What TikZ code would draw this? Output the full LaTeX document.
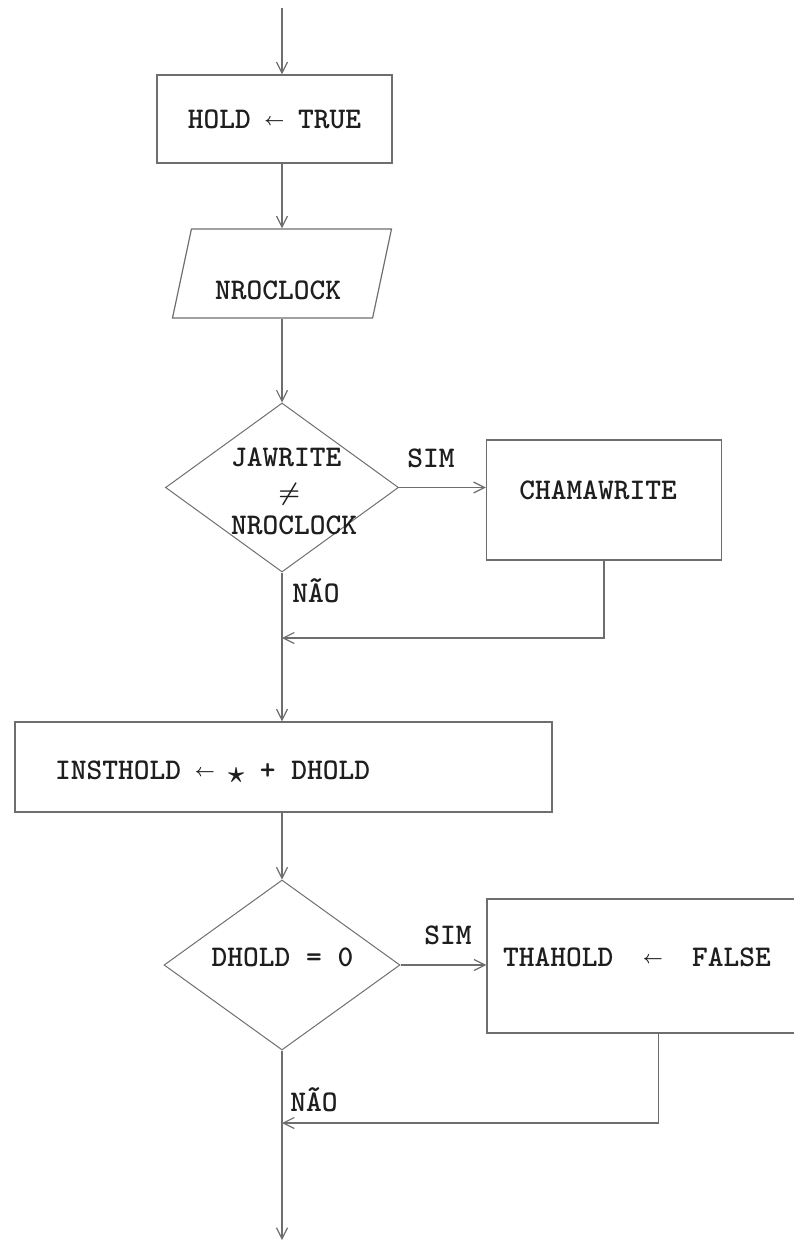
\documentclass[tikz,border=0pt]{standalone}
\usepackage{graphicx}
\usetikzlibrary{shapes.geometric,arrows.meta}

\definecolor{linegray}{HTML}{6E6E6E}
\definecolor{ink}{HTML}{1E1E1E}

% typewriter face of the listing
\newcommand\typo{\fontsize{30}{34}\selectfont\ttfamily\bfseries\boldmath}
% small assignment arrow and product star, one character cell wide each
\newcommand\asgn{\makebox[0.525em]{\raisebox{0.1em}{\scalebox{0.7}{$\leftarrow$}}}}
\newcommand\mulstar{\makebox[0.525em]{\raisebox{-0.1em}{\scalebox{1.2}{$\star$}}}}

\tikzset{
  box/.style={rectangle, draw=linegray, line width=1.2pt, inner sep=0pt},
  io/.style={trapezium, trapezium left angle=78, trapezium right angle=102,
    trapezium stretches body, draw=linegray, line width=1.2pt,
    inner xsep=0pt, inner ysep=44.5pt, text height=0pt, text depth=0pt},
  decision/.style={diamond, draw=linegray, line width=1pt, inner sep=0pt},
  txt/.style={font=\typo, text=ink, inner sep=0pt},
  flow/.style={draw=linegray, line width=1.2pt},
  arr/.style={flow, -{Straight Barb[length=11pt,width=11pt]}},
}

\begin{document}
\begin{tikzpicture}[x=1pt,y=-1pt]
  \useasboundingbox (0,0) rectangle (794,1244);

  % boxes
  \node[box, txt, minimum width=235pt, minimum height=88pt] (hold) at (274.5,119) {HOLD \asgn{} TRUE};
  \node[io, minimum width=219pt] (clk) at (282,273.5) {};
  \node[txt] (clktxt) at (278,290) {NROCLOCK};

  \node[decision, minimum width=233pt, minimum height=169pt] (cmp) at (282,487.5) {};
  \node[txt, align=left] (cmptxt) at (294,491) {JAWRITE\\\hphantom{JAW}$\neq$\\NROCLOCK};
  \node[box, minimum width=235pt, minimum height=120pt] (write) at (604,500) {};
  \node[txt] (writetxt) at (598,490) {CHAMAWRITE};

  \node[box, minimum width=537pt, minimum height=90pt] (acc) at (283.5,767) {};
  \node[txt, anchor=west] (acctxt) at (55,772) {INSTHOLD \asgn{} \mulstar{} + DHOLD};

  \node[decision, minimum width=236pt, minimum height=170pt] (test) at (282,965) {};
  \node[txt] (testtxt) at (282.5,957) {DHOLD = 0};
  \node[box, minimum width=343pt, minimum height=134pt] (reset) at (658.5,966) {};
  \node[txt, anchor=west] (resettxt) at (503,957) {THAHOLD\ \ \asgn\ \ FALSE};

  % branch labels
  \node[txt] (yes1) at (431,458) {SIM};
  \node[txt] (no1) at (316,591) {NÃO};
  \node[txt] (yes2) at (448,935) {SIM};
  \node[txt] (no2) at (314,1100) {NÃO};

  % connectors
  \coordinate (in) at (282,8);
  \coordinate (join1) at (282,638);
  \coordinate (join2) at (282,1123);
  \coordinate (out) at (282,1240);
  \draw[arr] (in) -- (in |- hold.north);
  \draw[arr] (hold.south -| in) -- (clk.north);
  \draw[arr] (clk.south) -- (cmp.north);
  \draw[arr] (cmp.east) -- (write.west |- cmp.east);
  \draw[flow] (cmp.south) -- (join1);
  \draw[arr] (write.south) |- (join1);
  \draw[arr] (join1) -- (acc.north -| join1);
  \draw[arr] (acc.south -| join1) -- (test.north);
  \draw[arr] (test.east) -- (reset.west |- test.east);
  \draw[flow] (test.south) -- (join2);
  \draw[arr] (reset.south) |- (join2);
  \draw[arr] (join2) -- (out);
\end{tikzpicture}
\end{document}
